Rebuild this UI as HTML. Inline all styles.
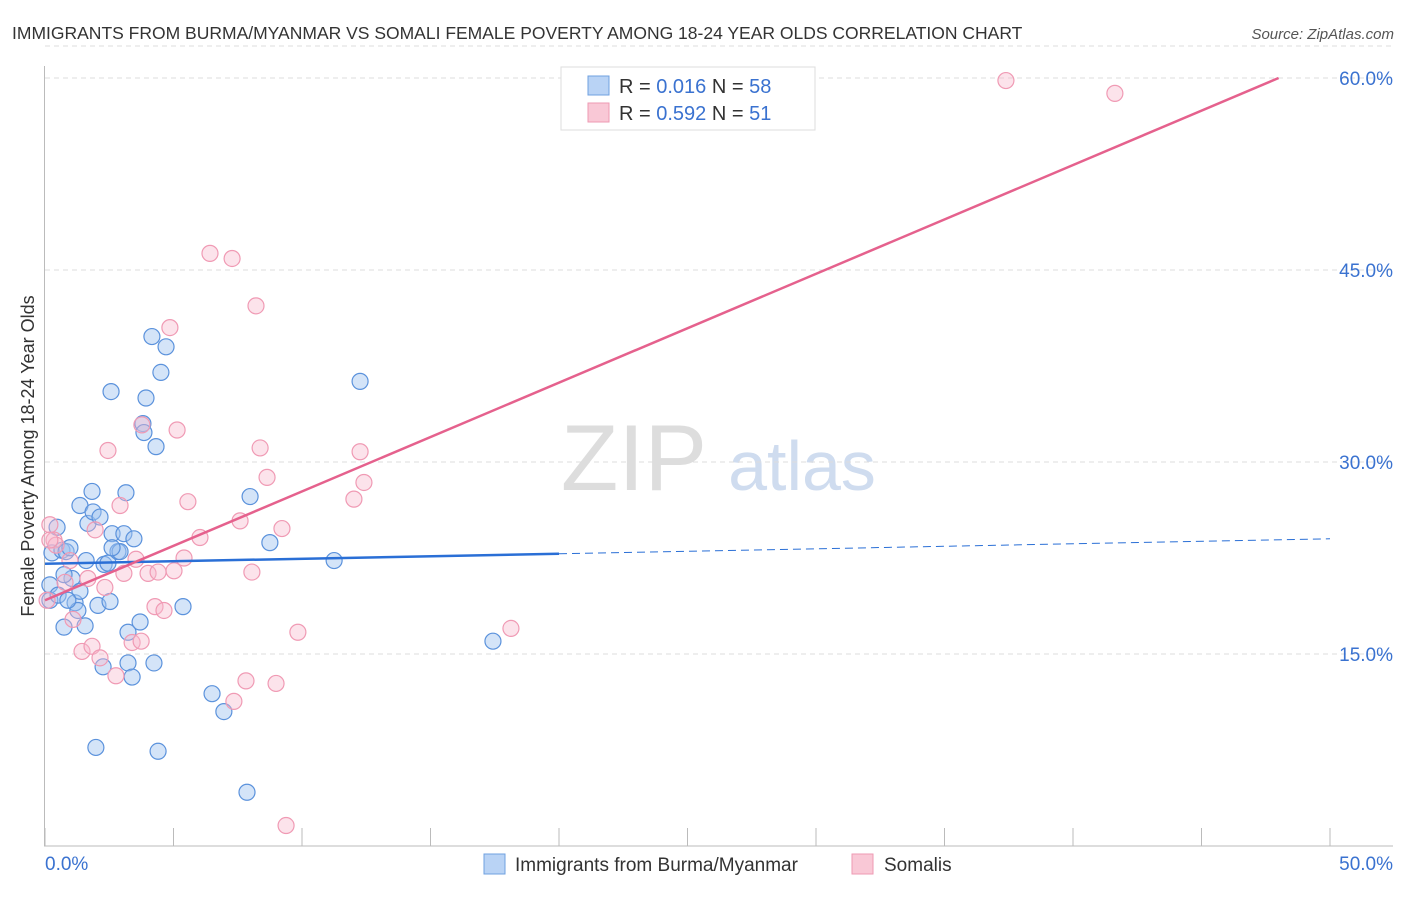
<!DOCTYPE html>
<html><head><meta charset="utf-8"><style>
body{margin:0;background:#fff;font-family:"Liberation Sans",sans-serif}
svg text{font-family:"Liberation Sans",sans-serif}
</style></head><body>
<svg id="c" width="1406" height="892">
<text x="12" y="39" font-size="17.5" fill="#333">IMMIGRANTS FROM BURMA/MYANMAR VS SOMALI FEMALE POVERTY AMONG 18-24 YEAR OLDS CORRELATION CHART</text>
<text x="1394" y="39" font-size="15" fill="#555" font-style="italic" text-anchor="end">Source: ZipAtlas.com</text>
<g>
<text x="634" y="490" font-size="94" fill="#ddd" font-family="Liberation Serif" text-anchor="middle">ZIP</text>
<text x="802" y="490" font-size="70" fill="#cfdcef" text-anchor="middle">atlas</text></g>
<g id="grid"></g><g id="pts"></g><g id="lines"></g>
<text transform="translate(34,456) rotate(-90)" font-size="18" fill="#333" text-anchor="middle">Female Poverty Among 18-24 Year Olds</text>
<g>
<rect x="561" y="67" width="254" height="63" fill="#fff" stroke="#ddd"/>
<rect x="588" y="76" width="21" height="19" fill="#b9d3f5" stroke="#6fa0e0"/>
<rect x="588" y="103" width="21" height="19" fill="#f9c8d6" stroke="#ee9ab3"/>
<text x="619" y="93" font-size="20" fill="#333">R = <tspan fill="#3a72d0">0.016</tspan>   N = <tspan fill="#3a72d0">58</tspan></text>
<text x="619" y="120" font-size="20" fill="#333">R = <tspan fill="#3a72d0">0.592</tspan>   N = <tspan fill="#3a72d0"> 51</tspan></text>
</g>
<g>
<rect x="484" y="854" width="21" height="20" fill="#b9d3f5" stroke="#6fa0e0"/>
<text x="515" y="871" font-size="19" fill="#333">Immigrants from Burma/Myanmar</text>
<rect x="852" y="854" width="21" height="20" fill="#f9c8d6" stroke="#ee9ab3"/>
<text x="884" y="871" font-size="19" fill="#333">Somalis</text>
</g>
</svg>
<script>
const yTicks=[15,30,45,60];
const yTickLabels=["15.0%","30.0%","45.0%","60.0%"];
const xTicks=[0,5,10,15,20,25,30,35,40,45,50];
const xEndLabels=["0.0%","50.0%"];
const blueX=[0.47,0.27,0.19,0.19,0.66,0.82,0.97,1.05,0.74,1.17,1.36,1.36,1.60,1.67,1.83,1.87,1.98,2.06,2.14,2.26,2.30,2.45,2.53,2.57,2.61,2.84,2.92,3.07,3.15,3.23,3.23,3.39,3.46,3.70,3.81,3.85,3.93,4.24,4.32,4.16,4.40,4.51,4.71,5.37,6.50,6.96,7.86,7.98,8.75,11.25,12.26,17.43,0.51,1.56,1.28,2.61,0.89,0.74];
const blueY=[24.9,22.9,20.4,19.2,23.1,23.0,23.3,20.9,17.1,19.0,19.9,26.6,22.3,25.2,27.7,26.1,7.7,18.8,25.7,14.0,22.0,22.1,19.1,35.5,24.4,23.0,23.0,24.4,27.6,16.7,14.3,13.2,24.0,17.5,33.0,32.3,35.0,14.3,31.2,39.8,7.4,37.0,39.0,18.7,11.9,10.5,4.2,27.3,23.7,22.3,36.3,16.0,19.6,17.2,18.4,23.3,19.2,21.2];
const pinkX=[37.39,41.63,6.42,7.28,8.21,4.86,3.77,5.14,2.45,8.37,12.26,8.64,12.41,12.02,5.56,2.92,7.59,9.22,6.03,0.19,0.35,0.43,1.95,3.54,5.41,3.07,4.01,4.40,5.02,8.05,0.78,1.67,2.33,1.09,4.28,4.63,3.39,3.74,9.84,18.13,1.44,1.83,2.14,2.76,7.82,8.99,7.35,9.38,0.08,0.97,0.19];
const pinkY=[59.8,58.8,46.3,45.9,42.2,40.5,32.9,32.5,30.9,31.1,30.8,28.8,28.4,27.1,26.9,26.6,25.4,24.8,24.1,25.1,23.9,23.5,24.7,22.4,22.5,21.3,21.3,21.4,21.5,21.4,20.6,20.9,20.2,17.7,18.7,18.4,15.9,16.0,16.7,17.0,15.2,15.6,14.7,13.3,12.9,12.7,11.3,1.6,19.2,22.3,23.9];
const blueTrend=[22.05,24.0];   // y at x=0, x=50
const pinkTrend=[19.2,60.0,48]; // y at x=0, y at x=48
const X=v=>45+v*25.7, Y=v=>846-v*12.8;
const NS="http://www.w3.org/2000/svg";
function mk(p,t,a){const e=document.createElementNS(NS,t);for(const k in a)e.setAttribute(k,a[k]);p.appendChild(e);return e;}
const g=document.getElementById('grid');
yTicks.forEach((t,i)=>{
 const l=mk(g,'line',{x1:45,x2:1393,y1:Y(t),y2:Y(t),stroke:'#ddd','stroke-dasharray':'5,4'});
 
 
 const tx=mk(g,'text',{x:1393,y:Y(t)+7,'font-size':19,fill:'#3a72d0','text-anchor':'end'});
 tx.textContent=yTickLabels[i];
 
 
});
mk(g,'line',{x1:45,x2:1393,y1:Y(62.5),y2:Y(62.5),stroke:'#ddd','stroke-dasharray':'5,4'});
const ax=mk(g,'line',{x1:44.5,x2:44.5,y1:66,y2:846,stroke:'#bbb'});


const bx=mk(g,'line',{x1:44,x2:1393,y1:846,y2:846,stroke:'#bbb'});


xTicks.forEach(t=>{const l=mk(g,'line',{x1:X(t),x2:X(t),y1:828,y2:846,stroke:'#bbb'});
 
 });
const xl0=mk(g,'text',{x:45,y:870,'font-size':19,fill:'#3a72d0'});xl0.textContent=xEndLabels[0];


const xl1=mk(g,'text',{x:1393,y:870,'font-size':19,fill:'#3a72d0','text-anchor':'end'});xl1.textContent=xEndLabels[1];


const p=document.getElementById('pts');
blueX.forEach((x,i)=>{const c=mk(p,'circle',{cx:X(x),cy:Y(blueY[i]),r:8,fill:'rgba(160,196,240,0.45)',stroke:'#5b92dc','stroke-width':1.2});
 
 });
pinkX.forEach((x,i)=>{const c=mk(p,'circle',{cx:X(x),cy:Y(pinkY[i]),r:8,fill:'rgba(247,184,204,0.4)',stroke:'#f09ab4','stroke-width':1.2});
 
 });
const L=document.getElementById('lines');
const bAt=x=>blueTrend[0]+(blueTrend[1]-blueTrend[0])*x/50;
const b1=mk(L,'line',{x1:X(0),y1:Y(bAt(0)),x2:X(20),y2:Y(bAt(20)),stroke:'#2a6fd6','stroke-width':2.5});


const b2=mk(L,'line',{x1:X(20),y1:Y(bAt(20)),x2:X(50),y2:Y(bAt(50)),stroke:'#2a6fd6','stroke-width':1,'stroke-dasharray':'8,5'});


const pl=mk(L,'line',{x1:X(0),y1:Y(pinkTrend[0]),x2:X(pinkTrend[2]),y2:Y(pinkTrend[1]),stroke:'#e5618d','stroke-width':2.5});


</script>
</body></html>
